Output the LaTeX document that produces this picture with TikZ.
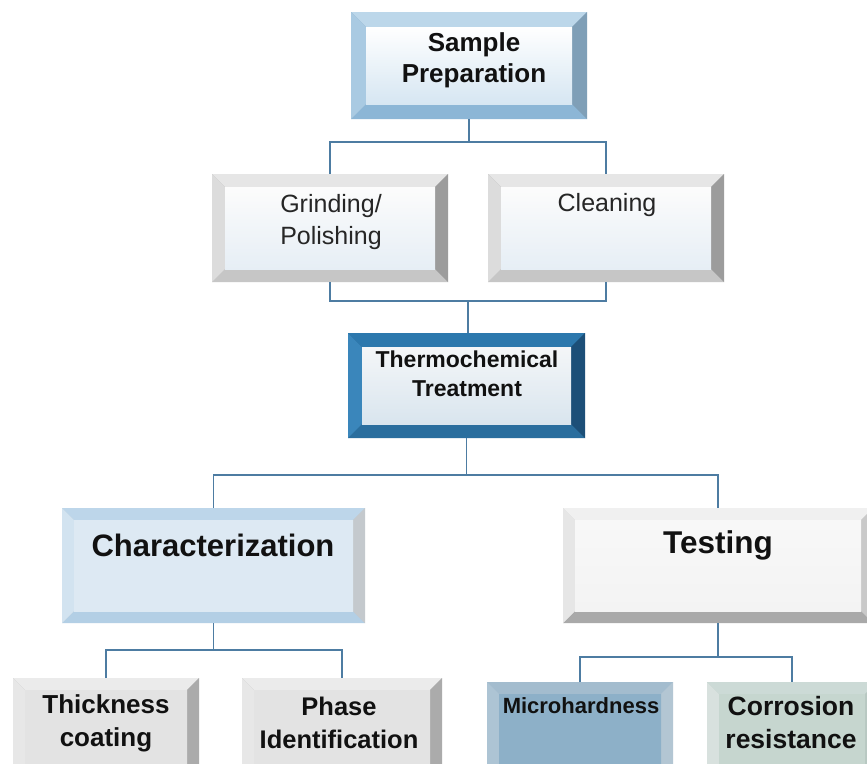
\documentclass[tikz,border=0pt]{standalone}
\usepackage{fontspec}
\setmainfont{Liberation Sans}
% colour sets: T top, L left, B bottom, R right, F face top, G face bottom
\definecolor{spT}{HTML}{BCD7EA}\definecolor{spL}{HTML}{A9CAE2}\definecolor{spB}{HTML}{8CB6D6}\definecolor{spR}{HTML}{7F9FB7}\definecolor{spF}{HTML}{FFFFFF}\definecolor{spG}{HTML}{D6E6F2}
\definecolor{gpT}{HTML}{E6E6E6}\definecolor{gpL}{HTML}{DCDCDC}\definecolor{gpB}{HTML}{C6C6C6}\definecolor{gpR}{HTML}{9C9C9C}\definecolor{gpF}{HTML}{FCFCFC}\definecolor{gpG}{HTML}{E6EEF5}
\definecolor{ttT}{HTML}{2C78AD}\definecolor{ttL}{HTML}{3A86BB}\definecolor{ttB}{HTML}{2A6E9E}\definecolor{ttR}{HTML}{1C4F78}\definecolor{ttF}{HTML}{F4F6F8}\definecolor{ttG}{HTML}{D9E5EE}
\definecolor{chT}{HTML}{BDD6EA}\definecolor{chL}{HTML}{D2E3F0}\definecolor{chB}{HTML}{B3CFE5}\definecolor{chR}{HTML}{C4C9CD}\definecolor{chF}{HTML}{DDE9F3}\definecolor{chG}{HTML}{DDE9F3}
\definecolor{tsT}{HTML}{F0F0F0}\definecolor{tsL}{HTML}{E6E6E6}\definecolor{tsB}{HTML}{A9A9A9}\definecolor{tsR}{HTML}{C9C9C9}\definecolor{tsF}{HTML}{F8F8F8}\definecolor{tsG}{HTML}{F3F3F3}
\definecolor{thT}{HTML}{EBEBEB}\definecolor{thL}{HTML}{E7E7E7}\definecolor{thB}{HTML}{D0D0D0}\definecolor{thR}{HTML}{ABABAB}\definecolor{thF}{HTML}{E3E3E3}\definecolor{thG}{HTML}{E3E3E3}
\definecolor{mhT}{HTML}{A3BCCE}\definecolor{mhL}{HTML}{ADC4D4}\definecolor{mhB}{HTML}{9AB5C9}\definecolor{mhR}{HTML}{B3C6D3}\definecolor{mhF}{HTML}{8DB0C8}\definecolor{mhG}{HTML}{8DB0C8}
\definecolor{crT}{HTML}{CCDAD6}\definecolor{crL}{HTML}{D8E1DE}\definecolor{crB}{HTML}{C0CFCA}\definecolor{crR}{HTML}{B8C8C2}\definecolor{crF}{HTML}{C6D6CF}\definecolor{crG}{HTML}{C6D6CF}
\definecolor{linecol}{HTML}{4D7CA2}
\definecolor{txt}{HTML}{111111}
\definecolor{txtlight}{HTML}{262626}
\newcommand\bevbox[6]{%
 \node[inner sep=0pt, outer sep=0pt, minimum width=#3pt, minimum height=#4pt, fill=#5R,
  path picture={
   \coordinate (@nw) at (path picture bounding box.north west);
   \coordinate (@ne) at (path picture bounding box.north east);
   \coordinate (@sw) at (path picture bounding box.south west);
   \coordinate (@se) at (path picture bounding box.south east);
   \fill[#5T] (@nw) -- (@ne) -- ([xshift=-#6pt,yshift=-#6pt]@ne) -- ([xshift=#6pt,yshift=-#6pt]@nw) -- cycle;
   \fill[#5B] (@sw) -- (@se) -- ([xshift=-#6pt,yshift=#6pt]@se) -- ([xshift=#6pt,yshift=#6pt]@sw) -- cycle;
   \fill[#5L] (@nw) -- (@sw) -- ([xshift=#6pt,yshift=#6pt]@sw) -- ([xshift=#6pt,yshift=-#6pt]@nw) -- cycle;
   \fill[#5R] (@ne) -- (@se) -- ([xshift=-#6pt,yshift=#6pt]@se) -- ([xshift=-#6pt,yshift=-#6pt]@ne) -- cycle;
   \shade[top color=#5F, bottom color=#5G] ([xshift=#6pt,yshift=-#6pt]@nw) rectangle ([xshift=-#6pt,yshift=#6pt]@se);
  }] (#1) at #2 {};}
\begin{document}
\begin{tikzpicture}[x=1pt,y=-1pt,
  conn/.style={draw=linecol, line width=1.3pt},
  lbl/.style={inner sep=0pt, align=center, text=txt}]
\useasboundingbox[fill=white] (0,0) rectangle (867,763);
% boxes
\bevbox{sp}{(469,65.5)}{236}{107}{sp}{15}
\bevbox{gp}{(330,228)}{236}{108}{gp}{13}
\bevbox{cl}{(606,228)}{236}{108}{gp}{13}
\bevbox{tt}{(466.5,385.5)}{237}{105}{tt}{14}
\bevbox{ch}{(213.5,565.5)}{303}{115}{ch}{12}
\bevbox{ts}{(718,565.5)}{310}{115}{ts}{12}
\bevbox{th}{(106,734)}{186}{112}{th}{12}
\bevbox{ph}{(342,734)}{200}{112}{th}{12}
\bevbox{mh}{(580,736)}{186}{108}{mh}{12}
\bevbox{cr}{(792,736)}{170}{108}{cr}{12}
% labels
\node[lbl, font=\fontsize{26}{31}\selectfont\bfseries] (spT) at (474,60) {Sample\\Preparation};
\node[lbl, text=txtlight, font=\fontsize{25}{32}\selectfont] (gpT) at (331,222) {Grinding/\\Polishing};
\node[lbl, text=txtlight, font=\fontsize{25}{32}\selectfont] (clT) at (607,205) {Cleaning};
\node[lbl, font=\fontsize{23}{29}\selectfont\bfseries] (ttT) at (467,374) {Thermochemical\\Treatment};
\node[lbl, font=\fontsize{31}{36}\selectfont\bfseries] (chT) at (213,545) {Characterization};
\node[lbl, font=\fontsize{31.5}{36}\selectfont\bfseries] (tsT) at (718,545) {Testing};
\node[lbl, font=\fontsize{26}{33}\selectfont\bfseries] (thT) at (106,723) {Thickness\\coating};
\node[lbl, font=\fontsize{25.5}{33}\selectfont\bfseries] (phT) at (339,723) {Phase\\Identification};
\node[lbl, font=\fontsize{22}{30}\selectfont\bfseries] (mhT) at (581,706) {Microhardness};
\node[lbl, font=\fontsize{26.5}{33}\selectfont\bfseries] (crT) at (791,723) {Corrosion\\resistance};
% junctions
\coordinate (j1) at (469,142);
\coordinate (j2) at (468,301);
\coordinate (j3) at (466.5,475);
\coordinate (j4) at (213.5,650);
\coordinate (j5) at (718,657);
% connectors
\draw[conn] (sp.south) -- (j1);
\draw[conn] (gp.north) |- (j1) -| (cl.north);
\draw[conn] (gp.south) |- (j2) -| (cl.south);
\draw[conn] (j2) -- (j2 |- tt.north);
\draw[conn] (tt.south) -- (j3);
\draw[conn] (ch.north) |- (j3) -| (ts.north);
\draw[conn] (ch.south) -- (j4);
\draw[conn] (th.north) |- (j4) -| (ph.north);
\draw[conn] (ts.south) -- (j5);
\draw[conn] (mh.north) |- (j5) -| (cr.north);
\end{tikzpicture}
\end{document}
